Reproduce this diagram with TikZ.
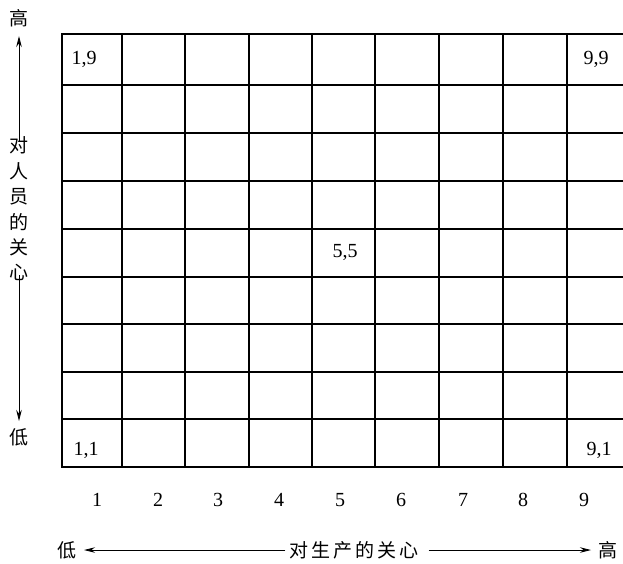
\documentclass[tikz,border=0pt]{standalone}
\usepackage{fontspec}
\setmainfont{Liberation Serif}
\newfontfamily\cjk{Noto Sans CJK SC}
\usetikzlibrary{arrows.meta}
\begin{document}
\begin{tikzpicture}[x=1pt,y=-1pt,
  gridline/.style={line width=1.3pt},
  axisarrow/.style={line width=0.9pt,-{Stealth[length=11pt,width=5.5pt]}},
  num/.style={font=\fontsize{20}{20}\selectfont,inner sep=0pt,anchor=base},
  zh/.style={font=\cjk\fontsize{19}{25.4}\selectfont,inner sep=0pt}]
\useasboundingbox (0,0) rectangle (623,563);
\begin{scope}
\clip (0,0) rectangle (623,563);
\foreach \x in {62,122,185,249,312,375,439,503,567}
  \draw[gridline] (\x,34) -- (\x,467);
\foreach \y in {34,85,133,181,229,277,324,372,419,467}
  \draw[gridline] (61.35,\y) -- (630,\y);
\end{scope}
% cell labels
\node[num] (c19) at (84,64) {1,9};
\node[num] (c99) at (596,64) {9,9};
\node[num] (c55) at (345,257) {5,5};
\node[num] (c11) at (86,455) {1,1};
\node[num] (c91) at (599,455) {9,1};
% column numbers
\foreach \n/\x in {1/97,2/158,3/218,4/279,5/340,6/401,7/463,8/523,9/584}
  \node[num] (n\n) at (\x,506) {\n};
% vertical axis
\node[zh] (vhigh) at (19,18) {高};
\node[zh,align=center] (vlabel) at (19,209) {对\\人\\员\\的\\关\\心};
\node[zh] (vlow) at (19,437) {低};
\coordinate (vtop) at (19,36);
\coordinate (vbot) at (19,421);
\draw[axisarrow] ([yshift=-4pt]vlabel.north) -- (vtop);
\draw[axisarrow] ([yshift=6pt]vlabel.south) -- (vbot);
% horizontal axis
\node[zh] (hlow) at (67,550) {低};
\node[zh] (hlabel) at (354,550) {对\hspace{3pt}生\hspace{3pt}产\hspace{3pt}的\hspace{3pt}关\hspace{3pt}心};
\node[zh] (hhigh) at (608,550) {高};
\coordinate (hleft) at (84,550);
\coordinate (hright) at (591,550);
\draw[axisarrow] ([xshift=-4pt]hlabel.west) -- (hleft);
\draw[axisarrow] ([xshift=10pt]hlabel.east) -- (hright);
\end{tikzpicture}
\end{document}
